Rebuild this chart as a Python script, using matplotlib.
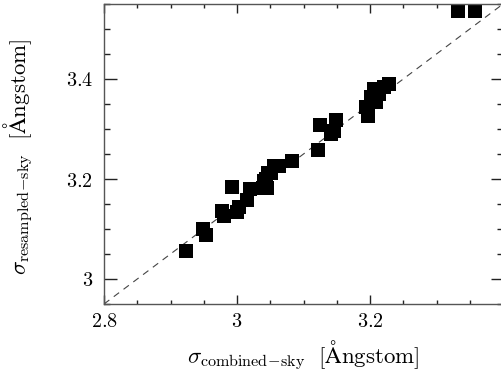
#!/usr/bin/env python3
"""Resampled-sky vs combined-sky line widths, with the offset one-to-one line."""

import matplotlib

matplotlib.use("Agg")
import matplotlib.pyplot as plt
from matplotlib.ticker import FuncFormatter, MultipleLocator

# sigma values (Angstrom)
sigma_combined = [
    2.923, 2.949, 2.953, 2.977, 2.981, 2.992, 3.000, 3.0025, 3.015, 3.020,
    3.039, 3.040, 3.0455, 3.0465, 3.044, 3.0515, 3.056, 3.0625, 3.0825,
    3.122, 3.1245, 3.1415, 3.1465, 3.1485,
    3.1965, 3.194, 3.2015, 3.2065, 3.209, 3.214, 3.2215, 3.229,
    3.333, 3.3585,
]
sigma_resampled = [
    3.057, 3.101, 3.089, 3.137, 3.127, 3.185, 3.135, 3.145, 3.158, 3.181,
    3.183, 3.196, 3.183, 3.213, 3.200, 3.213, 3.226, 3.226, 3.237,
    3.259, 3.3075, 3.290, 3.297, 3.318,
    3.327, 3.344, 3.364, 3.380, 3.354, 3.370, 3.384, 3.390,
    3.535, 3.535,
]
line_x = [2.8, 3.4]
line_offset = 0.15

plt.rcParams["mathtext.fontset"] = "cm"

fig = plt.figure(figsize=(5.01, 3.75), dpi=100)
ax = fig.add_axes([104 / 501, 71 / 375, 399 / 501, 300 / 375])

ax.plot(line_x, [v + line_offset for v in line_x], color="#444444",
        lw=0.8, dashes=(6, 5), zorder=1)
ax.plot(sigma_combined, sigma_resampled, ls="none", marker="s",
        markersize=10, color="black", markeredgewidth=0, zorder=2)

ax.set_xlim(2.8, 3.4)
ax.set_ylim(2.95, 3.55)

ax.xaxis.set_major_locator(MultipleLocator(0.2))
ax.xaxis.set_minor_locator(MultipleLocator(0.05))
ax.yaxis.set_major_locator(MultipleLocator(0.2))
ax.yaxis.set_minor_locator(MultipleLocator(0.05))
# the right edge sits at 3.4 but the picture shows no label there
ax.xaxis.set_major_formatter(FuncFormatter(lambda v, pos: f"${v:g}$" if v < 3.39 else ""))
ax.yaxis.set_major_formatter(FuncFormatter(lambda v, pos: f"${v:g}$"))

ax.tick_params(which="both", direction="in", top=True, right=True,
               color="#222222", labelsize=14.5)
ax.tick_params(axis="x", which="major", length=6.5, width=1, pad=6)
ax.tick_params(axis="x", which="minor", length=3.2, width=1)
ax.tick_params(axis="y", which="major", length=9, width=1, pad=8)
ax.tick_params(axis="y", which="minor", length=4.5, width=1)
for spine in ax.spines.values():
    spine.set_color("#555555")
    spine.set_linewidth(1)

ax.set_xlabel(r"$\sigma_{\mathrm{combined\!-\!sky}}\ \ [\mathrm{Ångstom}]$", fontsize=16.5)
ax.set_ylabel(r"$\sigma_{\mathrm{resampled\!-\!sky}}\ \ [\mathrm{Ångstom}]$", fontsize=16.5)
ax.xaxis.set_label_coords(0.5, -0.115)
ax.yaxis.set_label_coords(-0.17, 0.49)

fig.savefig("out.png", dpi=100)
